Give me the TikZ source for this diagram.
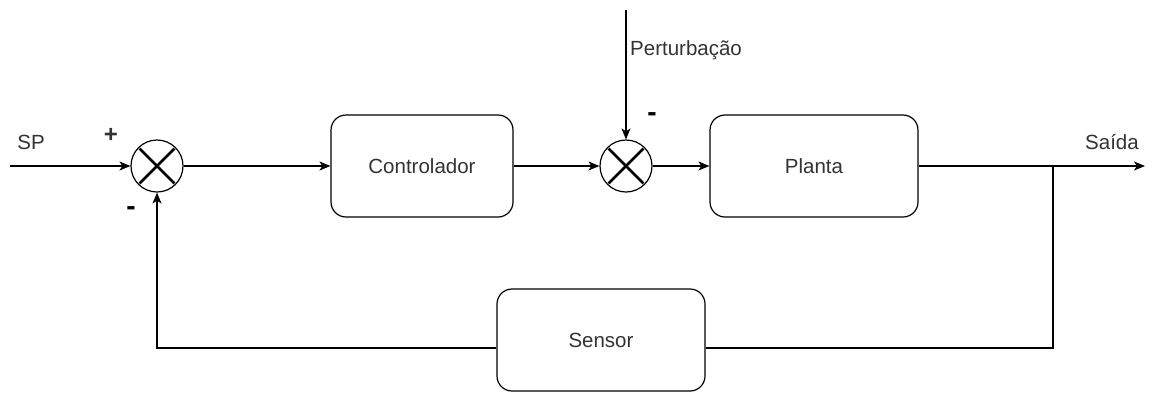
\documentclass[tikz,border=0pt]{standalone}
\usepackage{fontspec}
\setmainfont{Liberation Sans}
\usetikzlibrary{arrows.meta}
\definecolor{txt}{HTML}{333333}
\tikzset{
  blk/.style={draw, line width=1.2pt, rounded corners=15pt, text=txt, font=\fontsize{20.5}{24}\selectfont},
  sumj/.style={draw, circle, line width=1.2pt, minimum size=52pt, inner sep=0pt},
  xmark/.style={line width=2.8pt, shorten <=2pt, shorten >=2pt},
  wire/.style={line width=1.2pt},
  arr/.style={wire, -{Stealth[length=11pt,width=9pt,inset=3pt]}},
  lbl/.style={text=txt, font=\fontsize{20.5}{24}\selectfont, inner sep=0pt},
  plus/.style={text=txt, font=\fontsize{24}{28}\selectfont\bfseries, inner sep=0pt},
  sgn/.style={text=black, font=\fontsize{28}{30}\selectfont\bfseries, inner sep=0pt}
}
\begin{document}
\begin{tikzpicture}[x=1pt,y=-1pt]
\useasboundingbox (0,0) rectangle (1157,392);
% summing junctions
\node[sumj] (s1) at (157,166) {};
\node[sumj] (s2) at (626,166) {};
\draw[xmark] (s1.north west) -- (s1.south east);
\draw[xmark] (s1.north east) -- (s1.south west);
\draw[xmark] (s2.north west) -- (s2.south east);
\draw[xmark] (s2.north east) -- (s2.south west);
% blocks
\node[blk, minimum width=182pt, minimum height=102pt] (ctrl) at (422,166) {Controlador};
\node[blk, minimum width=208pt, minimum height=102pt] (plant) at (814,166) {Planta};
\node[blk, minimum width=208pt, minimum height=102pt] (sens) at (601,340) {Sensor};
% coordinates
\coordinate (spin) at (10,166);
\coordinate (pin) at (626,10);
\coordinate (out) at (1145,166);
\coordinate (br) at (1053,166);
\coordinate (brd) at (1053,348);
\coordinate (fbl) at (157,348);
% connectors
\draw[arr] (spin) -- (s1.west);
\draw[arr] (s1.east) -- (ctrl.west);
\draw[arr] (ctrl.east) -- (s2.west);
\draw[arr] (s2.east) -- (plant.west);
\draw[arr] (pin) -- (s2.north);
\draw[arr] (plant.east) -- (out);
\draw[wire] (br) -- (brd) -- (sens.east |- brd);
\draw[arr] (sens.west |- fbl) -- (fbl) -- (s1.south);
% labels
\node[lbl] (tsp) at (31,142) {SP};
\node[lbl, anchor=west] (tpert) at (630,50) {Perturbação};
\node[lbl] (tsai) at (1112,142) {Saída};
\node[plus] (plus1) at (111,135) {+};
\node[sgn] (minus1) at (131,211) {-};
\node[sgn] (minus2) at (652,117) {-};
\end{tikzpicture}
\end{document}
